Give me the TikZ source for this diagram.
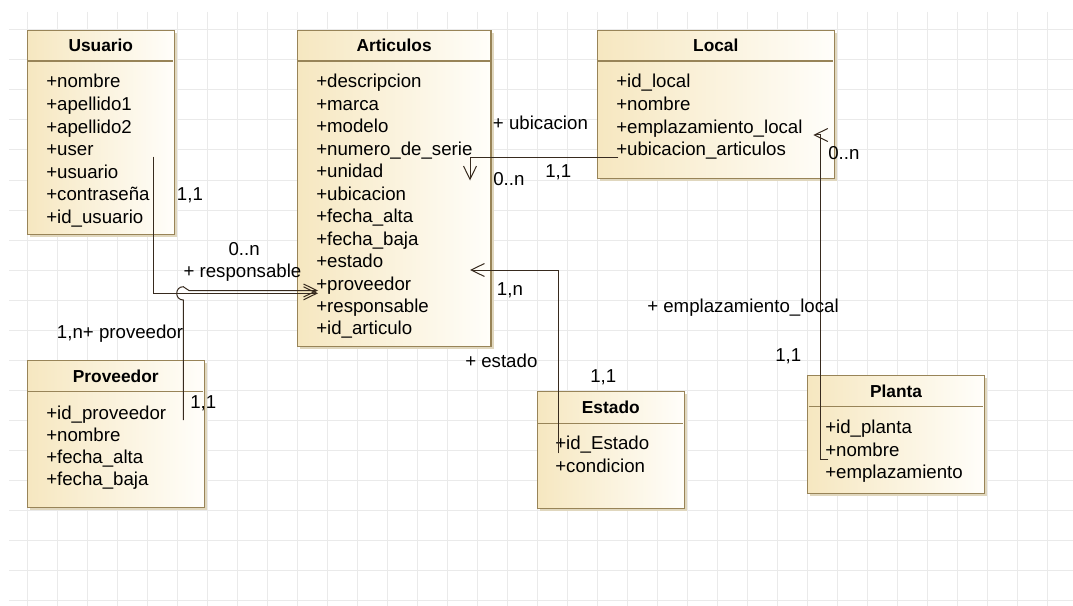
\documentclass[tikz,border=0pt]{standalone}
\usepackage{fontspec}
\setmainfont{Liberation Sans}
\usetikzlibrary{arrows.meta}
\definecolor{gridC}{RGB}{234,234,234}
\definecolor{boxL}{RGB}{246,231,192}
\definecolor{boxR}{RGB}{255,254,250}
\definecolor{borderC}{RGB}{152,132,88}
\definecolor{shadowC}{RGB}{224,215,190}
\definecolor{lineC}{RGB}{55,42,30}
\newcommand\umlclass[7]{% name, x, y, w, h, header height, title
  \fill[shadowC] (#2+2.5,#3+2.5) rectangle (#2+#4+2.5,#3+#5+2.5);
  \node[cls, minimum width=#4*0.75pt, minimum height=#5*0.75pt] (#1) at (#2,#3) {};
  \draw[sepline] (#2+1,#3+#6) -- (#2+#4-1,#3+#6);
  \node[ttl] (#1-t) at (#2+#4/2,#3+#6/2+6) {#7};
}
\newcommand\umlattrs[5]{% name, x, first baseline, spacing, list
  \foreach \attrtext [count=\i] in {#5}
    \node[attr] (#1-\i) at (#2,#3+#4*\i-#4) {\attrtext};
}
\begin{document}
\begin{tikzpicture}[x=0.75pt,y=-0.75pt,
  cls/.style={draw=borderC, line width=1pt, left color=boxL, right color=boxR, anchor=north west, inner sep=0pt, outer sep=0pt},
  sepline/.style={draw=borderC, line width=0.8pt},
  ttl/.style={font=\fontsize{13}{15}\selectfont\bfseries, anchor=base, inner sep=0pt},
  attr/.style={font=\fontsize{14}{16}\selectfont, anchor=base west, inner sep=0pt},
  lbl/.style={font=\fontsize{14}{16}\selectfont, anchor=base west, inner sep=0pt},
  conn/.style={draw=lineC, line width=0.75pt},
  openarrow/.style={-{Straight Barb[length=10pt,width=9.75pt]}}
]
\fill[white] (0,0) rectangle (1073,606);
\useasboundingbox (0,0) rectangle (1073,606);
% grid
\foreach \i in {0,...,34} \draw[gridC, line width=0.75pt] (27.3+30*\i,12) -- (27.3+30*\i,606);
\foreach \j in {1,...,20} \draw[gridC, line width=0.75pt] (9,30*\j) -- (1073,30*\j);

% classes
\umlclass{usr}{27.3}{30.3}{147}{204}{30.7}{Usuario}
\umlattrs{usr}{46}{88}{22.5}{+nombre,+apellido1,+apellido2,+user,+usuario,+contraseña,+id\_usuario}

\umlclass{art}{297.3}{30.3}{193.7}{316.4}{30.7}{Articulos}
\umlattrs{art}{316}{88}{22.45}{+descripcion,+marca,+modelo,+numero\_de\_serie,+unidad,+ubicacion,+fecha\_alta,+fecha\_baja,+estado,+proveedor,+responsable,+id\_articulo}

\umlclass{loc}{597.3}{30.3}{237}{148}{30.7}{Local}
\umlattrs{loc}{616}{88}{22.5}{+id\_local,+nombre,+emplazamiento\_local,+ubicacion\_articulos}

\umlclass{prv}{27.3}{360.7}{177}{147}{31}{Proveedor}
\umlattrs{prv}{46}{419.2}{22.2}{+id\_proveedor,+nombre,+fecha\_alta,+fecha\_baja}

\umlclass{est}{537.3}{391.7}{147}{116.6}{31.6}{Estado}
\umlattrs{est}{555}{449.8}{22.7}{+id\_Estado,+condicion}

\umlclass{pla}{807.7}{375.7}{176.6}{117.6}{31}{Planta}
\umlattrs{pla}{825}{433.5}{22.5}{+id\_planta,+nombre,+emplazamiento}

% connector points
\coordinate (r0) at (153.3,156.7);
\coordinate (r1) at (153.3,293.3);
\coordinate (r2) at (318,293.3);
\coordinate (v0) at (183.3,420);
\coordinate (v1) at (183.3,300);
\coordinate (v2) at (183.3,286.7);
\coordinate (v3) at (189,290.5);
\coordinate (v4) at (318,290.5);
\coordinate (u0) at (618.3,157.3);
\coordinate (u1) at (470,157.3);
\coordinate (u2) at (470,180.5);
\coordinate (e0) at (558.3,453.3);
\coordinate (e1) at (558.3,270);
\coordinate (e2) at (470,270);
\coordinate (p0) at (828.3,459.3);
\coordinate (p1) at (820.5,459.3);
\coordinate (p2) at (820.5,135);
\coordinate (p3) at (813.3,135);

% connectors
\draw[conn, openarrow] (r0) -- (r1) -- (r2);
\draw[conn, openarrow] (v0) -- (v1) .. controls (174.5,300) and (174.5,286.7) .. (v2)
  .. controls (186.5,286.7) and (185.5,290.5) .. (v3) -- (v4);
\draw[conn, openarrow] (u0) -- (u1) -- (u2);
\draw[conn, openarrow] (e0) -- (e1) -- (e2);
\draw[conn, openarrow] (p0) -- (p1) -- (p2) -- (p3);

% labels
\node[lbl] (l1) at (176.7,200.5) {1,1};
\node[lbl] (l2) at (228.3,255.5) {0..n};
\node[lbl] (l3) at (183.3,277.5) {+ responsable};
\node[lbl] (l4) at (56.7,338) {1,n};
\node[lbl] (l5) at (82.7,338) {+ proveedor};
\node[lbl] (l6) at (190,408) {1,1};
\node[lbl] (l7) at (492.7,129.8) {+ ubicacion};
\node[lbl] (l8) at (493,185.5) {0..n};
\node[lbl] (l9) at (545,177) {1,1};
\node[lbl] (l10) at (496.7,295.8) {1,n};
\node[lbl] (l11) at (465,367.5) {+ estado};
\node[lbl] (l12) at (590,382.5) {1,1};
\node[lbl] (l13) at (828,159.5) {0..n};
\node[lbl] (l14) at (647,312.5) {+ emplazamiento\_local};
\node[lbl] (l15) at (775,361.5) {1,1};
\end{tikzpicture}
\end{document}
